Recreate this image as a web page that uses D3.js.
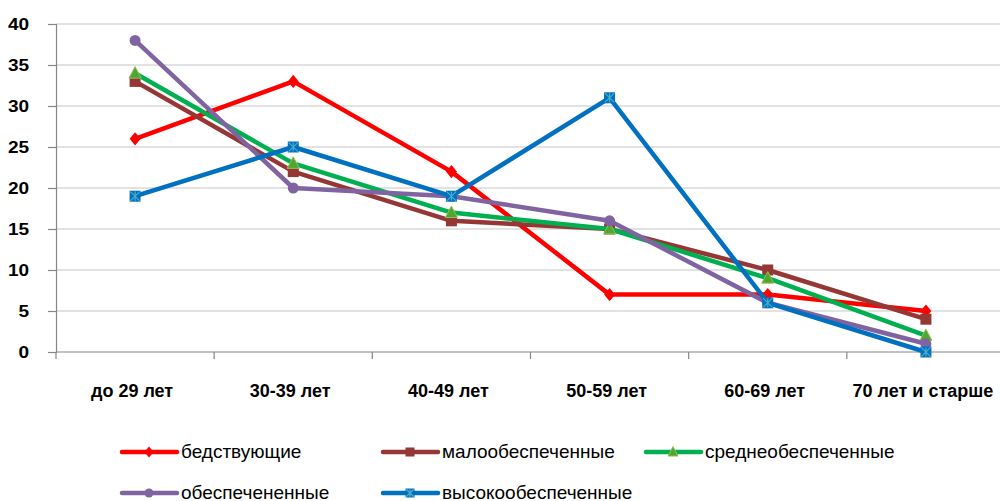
<!DOCTYPE html>
<html>
<head>
<meta charset="utf-8">
<script src="https://cdn.jsdelivr.net/npm/d3@7/dist/d3.min.js"></script>
<style>
  html, body { margin: 0; padding: 0; background: #fff; }
  svg { display: block; }
</style>
</head>
<body>
<svg id="chart" width="1000" height="501"></svg>
<script>
// Age groups along the category axis
const categories = ["до 29 лет", "30-39 лет", "40-49 лет", "50-59 лет", "60-69 лет", "70 лет и старше"];
const yTicks = [0, 5, 10, 15, 20, 25, 30, 35, 40];

// Share of each income group per age bracket
const bedstvuyushchie     = [26, 33, 22, 7, 7, 5];
const maloobespechennye   = [33, 22, 16, 15, 10, 4];
const sredneobespechennye = [34, 23, 17, 15, 9, 2];
const obespechenennye     = [38, 20, 19, 16, 6, 1];
const vysokoobespechennye = [19, 25, 19, 31, 6, 0];

const seriesNames = ["бедствующие", "малообеспеченные", "среднеобеспеченные", "обеспечененные", "высокообеспеченные"];
const seriesValues = [bedstvuyushchie, maloobespechennye, sredneobespechennye, obespechenennye, vysokoobespechennye];
const seriesColors = ["#FF0000", "#953735", "#00B050", "#8064A2", "#0070C0"];
const seriesMarkers = ["diamond", "square", "triangle", "circle", "starSquare"];

const svg = d3.select("#chart");
const plotLeft = 56, plotRight = 1005, plotTop = 24, plotBottom = 352;

const x = d3.scaleBand().domain(categories).range([plotLeft, plotRight]).paddingInner(0).paddingOuter(0);
const y = d3.scaleLinear().domain([0, 40]).range([plotBottom, plotTop]);

// Horizontal gridlines
svg.append("g").selectAll("line").data(yTicks.filter(d => d > 0)).join("line")
  .attr("x1", plotLeft).attr("x2", 1000)
  .attr("y1", d => y(d)).attr("y2", d => y(d))
  .attr("stroke", "#d9d9d9").attr("stroke-width", 1.5);

// Y axis
const yAxis = svg.append("g").attr("transform", `translate(${plotLeft},0)`)
  .call(d3.axisLeft(y).tickValues(yTicks).tickSize(8).tickPadding(16));
yAxis.select(".domain").attr("stroke", "#868686").attr("stroke-width", 1.2);
yAxis.selectAll(".tick line").attr("stroke", "#868686").attr("stroke-width", 1.2);
yAxis.selectAll("text")
  .attr("font-family", "Liberation Sans, Arial, sans-serif")
  .attr("font-weight", "bold").attr("font-size", 17).attr("fill", "#000")
  .attr("transform", "scale(1.12,1)");

// X axis with ticks on category boundaries
const xAxisG = svg.append("g");
xAxisG.append("line").attr("x1", plotLeft).attr("x2", 1000)
  .attr("y1", plotBottom).attr("y2", plotBottom)
  .attr("stroke", "#868686").attr("stroke-width", 1.2);
const boundaries = categories.map(c => x(c)).concat([x(categories[categories.length - 1]) + x.bandwidth()]);
xAxisG.selectAll("line.tk").data(boundaries).join("line").attr("class", "tk")
  .attr("x1", d => d).attr("x2", d => d)
  .attr("y1", plotBottom).attr("y2", plotBottom + 7)
  .attr("stroke", "#868686").attr("stroke-width", 1.2);
xAxisG.selectAll("text").data(categories).join("text")
  .attr("x", d => x(d) + x.bandwidth() / 2 - 3)
  .attr("y", 397)
  .attr("text-anchor", "middle")
  .attr("font-family", "Liberation Sans, Arial, sans-serif")
  .attr("font-weight", "bold").attr("font-size", 18).attr("fill", "#000")
  .text(d => d);

// Marker drawing
function drawMarker(g, type, color, cx, cy, s) {
  if (type === "diamond") {
    g.append("path").attr("d", `M${cx},${cy - s * 0.6}L${cx + s * 0.5},${cy}L${cx},${cy + s * 0.6}L${cx - s * 0.5},${cy}Z`).attr("fill", color);
  } else if (type === "square") {
    g.append("rect").attr("x", cx - s / 2).attr("y", cy - s / 2).attr("width", s).attr("height", s).attr("fill", color);
  } else if (type === "triangle") {
    g.append("path").attr("d", `M${cx},${cy - s * 0.6}L${cx + s * 0.55},${cy + s * 0.45}L${cx - s * 0.55},${cy + s * 0.45}Z`)
      .attr("fill", "#4EA72E").attr("stroke", "#9BBB59").attr("stroke-width", 1);
  } else if (type === "circle") {
    g.append("circle").attr("cx", cx).attr("cy", cy).attr("r", s / 2).attr("fill", color);
  } else if (type === "starSquare") {
    g.append("rect").attr("x", cx - s / 2).attr("y", cy - s / 2).attr("width", s).attr("height", s).attr("fill", color);
    const r = s * 0.42;
    g.append("path")
      .attr("d", `M${cx - r},${cy - r}L${cx + r},${cy + r}M${cx - r},${cy + r}L${cx + r},${cy - r}M${cx},${cy - r}L${cx},${cy + r}`)
      .attr("stroke", "#4BACC6").attr("stroke-width", 1.2);
  }
}

// Series lines and markers
const line = d3.line().x((d, i) => x(categories[i]) + x.bandwidth() / 2).y(d => y(d));
seriesValues.forEach((vals, si) => {
  const g = svg.append("g");
  g.append("path").datum(vals).attr("d", line)
    .attr("fill", "none").attr("stroke", seriesColors[si]).attr("stroke-width", 4.5)
    .attr("stroke-linejoin", "round");
  vals.forEach((v, i) => {
    drawMarker(g, seriesMarkers[si], seriesColors[si], x(categories[i]) + x.bandwidth() / 2, y(v), 11);
  });
});

// Legend
const legendPos = [[122, 452], [383, 452], [646, 452], [122, 493], [383, 493]];
seriesNames.forEach((name, i) => {
  const [lx, ly] = legendPos[i];
  const g = svg.append("g");
  g.append("line").attr("x1", lx).attr("x2", lx + 55).attr("y1", ly).attr("y2", ly)
    .attr("stroke", seriesColors[i]).attr("stroke-width", 4.5).attr("stroke-linecap", "round");
  drawMarker(g, seriesMarkers[i], seriesColors[i], lx + 27, ly, 9);
  g.append("text").attr("x", lx + 59).attr("y", ly + 6)
    .attr("font-family", "Liberation Sans, Arial, sans-serif")
    .attr("font-size", 19).attr("fill", "#000")
    .text(name);
});
</script>
</body>
</html>
